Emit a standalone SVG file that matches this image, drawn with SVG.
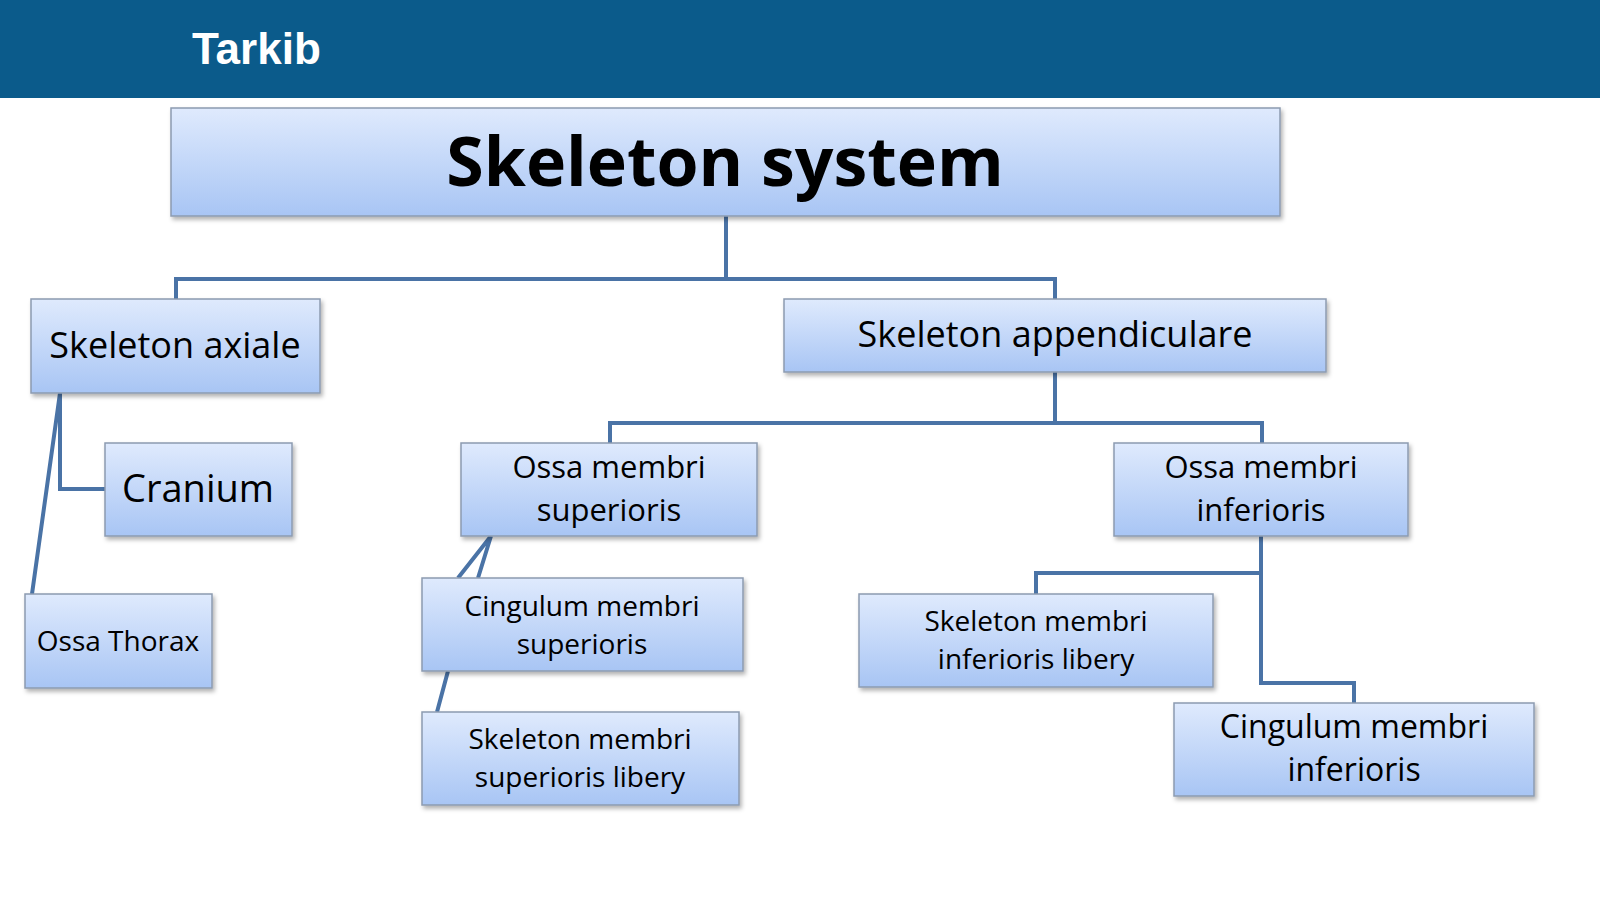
<svg xmlns="http://www.w3.org/2000/svg" width="1600" height="900" viewBox="0 0 1600 900">
<defs>
<linearGradient id="g" x1="0" y1="0" x2="0" y2="1"><stop offset="0" stop-color="#dfeafd"/><stop offset="1" stop-color="#a8c5f4"/></linearGradient>
<filter id="s" x="-5%" y="-5%" width="115%" height="125%"><feDropShadow dx="2" dy="3" stdDeviation="2" flood-color="#000" flood-opacity="0.3"/></filter>
</defs>
<style>
.n rect{fill:url(#g);stroke:#8c9bb0;stroke-width:1.5;filter:url(#s)}
.n text{font-family:"Open Sans","Noto Sans",sans-serif;fill:#000;text-anchor:middle}
#c path{fill:none;stroke:#4a73a6;stroke-width:4}
</style>
<rect width="1600" height="900" fill="#fff"/>
<rect width="1600" height="98" fill="#0b5b8b"/>
<text x="192" y="64" font-family="Liberation Sans,Arial,sans-serif" font-weight="bold" font-size="44" fill="#fff">Tarkib</text>
<g id="c">
<path d="M726 216V279M176 299V279H1055V299"/>
<path d="M1055 372V423M610 443V423H1262V443"/>
<path d="M60 393V489H105M60 393L32 594"/>
<path d="M491 536L458 578M491 536L478 578M448 671L437 712"/>
<path d="M1261 536V683H1354V703M1261 573H1036V594"/>
</g>
<g id="root" class="n"><rect x="171" y="108" width="1109" height="108"/><text x="725" y="186" font-size="68" font-weight="bold">Skeleton system</text></g>
<g id="axiale" class="n"><rect x="31" y="299" width="289" height="94"/><text x="175" y="358" font-size="36">Skeleton axiale</text></g>
<g id="append" class="n"><rect x="784" y="299" width="542" height="73"/><text x="1055" y="347" font-size="36">Skeleton appendiculare</text></g>
<g id="cranium" class="n"><rect x="105" y="443" width="187" height="93"/><text x="198" y="502" font-size="38">Cranium</text></g>
<g id="thorax" class="n"><rect x="25" y="594" width="187" height="94"/><text x="118" y="651" font-size="28">Ossa Thorax</text></g>
<g id="omsup" class="n"><rect x="461" y="443" width="296" height="93"/><text x="609" y="478" font-size="31">Ossa membri</text><text x="609" y="521" font-size="31">superioris</text></g>
<g id="ominf" class="n"><rect x="1114" y="443" width="294" height="93"/><text x="1261" y="478" font-size="31">Ossa membri</text><text x="1261" y="521" font-size="31">inferioris</text></g>
<g id="cmsup" class="n"><rect x="422" y="578" width="321" height="93"/><text x="582" y="616" font-size="28">Cingulum membri</text><text x="582" y="654" font-size="28">superioris</text></g>
<g id="smsup" class="n"><rect x="422" y="712" width="317" height="93"/><text x="580" y="749" font-size="28">Skeleton membri</text><text x="580" y="787" font-size="28">superioris libery</text></g>
<g id="sminf" class="n"><rect x="859" y="594" width="354" height="93"/><text x="1036" y="631" font-size="28">Skeleton membri</text><text x="1036" y="669" font-size="28">inferioris libery</text></g>
<g id="cminf" class="n"><rect x="1174" y="703" width="360" height="93"/><text x="1354" y="738" font-size="32">Cingulum membri</text><text x="1354" y="781" font-size="32">inferioris</text></g>
</svg>
